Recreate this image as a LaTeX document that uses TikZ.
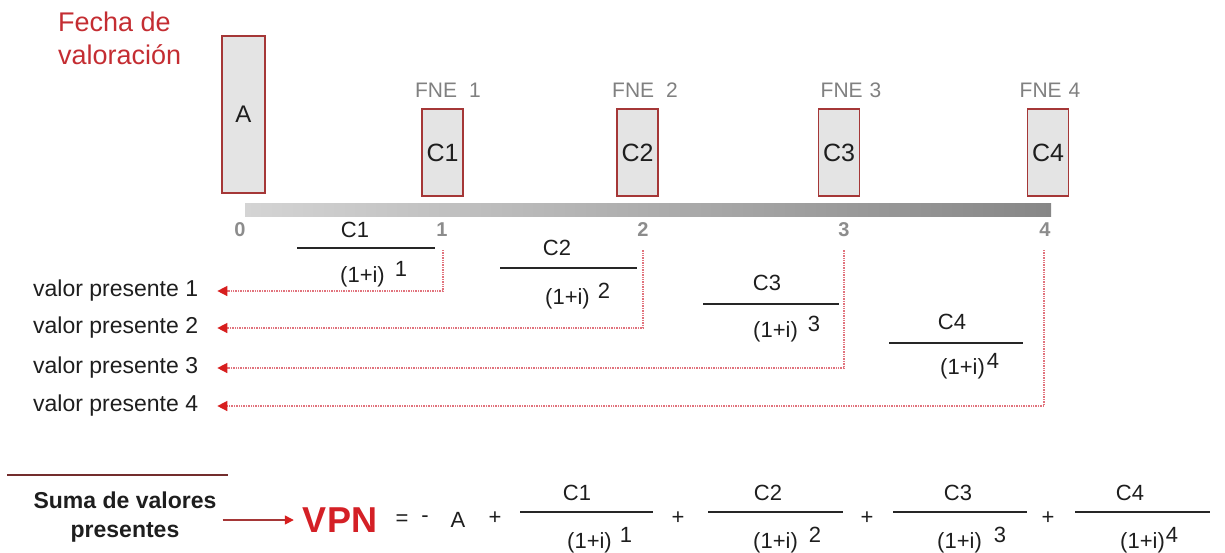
\documentclass[tikz,border=0pt]{standalone}
\usepackage{fontspec}
\setmainfont{Liberation Sans}
\usetikzlibrary{arrows.meta}
\definecolor{titred}{RGB}{196,45,50}
\definecolor{vpnred}{RGB}{212,32,38}
\definecolor{boxred}{RGB}{165,55,55}
\definecolor{boxfill}{RGB}{228,228,228}
\definecolor{fnegray}{RGB}{128,128,128}
\definecolor{tickgray}{RGB}{140,140,140}
\definecolor{dotred}{RGB}{225,115,125}
\definecolor{arrred}{RGB}{215,30,30}
\definecolor{txtblack}{RGB}{30,30,30}
\definecolor{barl}{RGB}{212,212,212}
\definecolor{barr}{RGB}{135,135,135}
\definecolor{topline}{RGB}{115,45,45}
\newcommand\denom[2]{(1+i)\hspace{#1}\raisebox{6pt}{#2}}
\begin{document}
\begin{tikzpicture}[x=1pt,y=-1pt,
  every node/.style={inner sep=0pt, text=txtblack},
  ftx/.style={font=\fontsize{22}{26}\selectfont},
  cbox/.style={draw=boxred, fill=boxfill, line width=1.4pt, minimum width=41pt, minimum height=87pt, font=\fontsize{25}{30}\selectfont},
  fnelab/.style={font=\fontsize{21}{25}\selectfont, text=fnegray},
  ticklab/.style={font=\bfseries\fontsize{20}{24}\selectfont, text=tickgray},
  fracline/.style={line width=2pt, draw=black!85},
  dotline/.style={draw=dotred, densely dotted, line width=1.4pt, -{Triangle[length=10pt,width=10pt,color=arrred]}, shorten >=19pt},
  vplab/.style={font=\fontsize{23}{27}\selectfont, anchor=west}
]
\useasboundingbox (0,0) rectangle (1225,552);

% title
\node[anchor=north west, align=left, text=titred, font=\fontsize{27}{33}\selectfont] (fecha) at (58,12) {Fecha de\\valoración};

% timeline bar
\shade[left color=barl, right color=barr] (245,203) rectangle (1051,216);

% boxes
\node[cbox, minimum width=43pt, minimum height=157pt, font=\fontsize{24}{28}\selectfont] (ba) at (243.5,114.5) {A};
\node[cbox] (b1) at (442.5,152.5) {C1};
\node[cbox] (b2) at (637.5,152.5) {C2};
\node[cbox] (b3) at (839,152.5) {C3};
\node[cbox] (b4) at (1048,152.5) {C4};

% FNE labels
\node[fnelab] (fne1) at (448,90) {FNE\hspace{12pt}1};
\node[fnelab] (fne2) at (645,90) {FNE\hspace{12pt}2};
\node[fnelab] (fne3) at (851,90) {FNE\hspace{7pt}3};
\node[fnelab] (fne4) at (1050,90) {FNE\hspace{7pt}4};

% tick numbers
\node[ticklab] (t0) at (240,230) {0};
\node[ticklab] (t1) at (442,230) {1};
\node[ticklab] (t2) at (643,230) {2};
\node[ticklab] (t3) at (844,230) {3};
\node[ticklab] (t4) at (1045,230) {4};

% middle fractions
\node[ftx] (mn1) at (355,230) {C1};
\draw[fracline] (297,248) -- (435,248);
\node[ftx, anchor=base west] (md1) at (340,282) {\denom{10pt}{1}};

\node[ftx] (mn2) at (557,248) {C2};
\draw[fracline] (500,268) -- (637,268);
\node[ftx, anchor=base west] (md2) at (545,304) {\denom{8pt}{2}};

\node[ftx] (mn3) at (767,283) {C3};
\draw[fracline] (703,304) -- (839,304);
\node[ftx, anchor=base west] (md3) at (753,337) {\denom{10pt}{3}};

\node[ftx] (mn4) at (952,322) {C4};
\draw[fracline] (889,343) -- (1023,343);
\node[ftx, anchor=base west] (md4) at (940,374) {\denom{2pt}{4}};

% valor presente labels
\node[vplab] (vp1) at (33,291) {valor presente 1};
\node[vplab] (vp2) at (33,328) {valor presente 2};
\node[vplab] (vp3) at (33,368) {valor presente 3};
\node[vplab] (vp4) at (33,406) {valor presente 4};

% dotted connectors
\draw[dotline] ([xshift=1pt,yshift=-13pt]t1.south) |- (vp1.east);
\draw[dotline] ([yshift=-13pt]t2.south) |- (vp2.east);
\draw[dotline] ([yshift=-13pt]t3.south) |- (vp3.east);
\draw[dotline] ([xshift=-1pt,yshift=-13pt]t4.south) |- (vp4.east);

% bottom formula
\draw[draw=topline, line width=1.5pt] (7,475) -- (228,475);
\node[align=center, font=\bfseries\fontsize{23}{29}\selectfont] (suma) at (125,517) {Suma de valores\\presentes};
\node[text=vpnred, font=\bfseries\fontsize{36}{40}\selectfont] (vpn) at (340,520) {VPN};
\draw[draw=boxred, line width=1.5pt, -{Triangle[length=9pt,width=9pt,color=arrred]}, shorten <=6pt, shorten >=9pt] (suma.east |- vpn.west) -- (vpn.west);

\node[ftx] (eq) at (402,520) {=};
\node[ftx] (mi) at (425,519) {-};
\node[ftx] (aa) at (458,520) {A};
\node[ftx] (p1) at (495,518) {+};
\node[ftx] (p2) at (678,518) {+};
\node[ftx] (p3) at (867,518) {+};
\node[ftx] (p4) at (1048,518) {+};

\node[ftx] (bn1) at (577,493) {C1};
\draw[fracline] (520,512) -- (653,512);
\node[ftx, anchor=base west] (bd1) at (567,548) {\denom{8pt}{1}};

\node[ftx] (bn2) at (768,493) {C2};
\draw[fracline] (708,512) -- (843,512);
\node[ftx, anchor=base west] (bd2) at (753,548) {\denom{11pt}{2}};

\node[ftx] (bn3) at (958,493) {C3};
\draw[fracline] (893,512) -- (1027,512);
\node[ftx, anchor=base west] (bd3) at (937,548) {\denom{12pt}{3}};

\node[ftx] (bn4) at (1130,493) {C4};
\draw[fracline] (1075,512) -- (1210,512);
\node[ftx, anchor=base west] (bd4) at (1120,548) {\denom{1pt}{4}};
\end{tikzpicture}
\end{document}
